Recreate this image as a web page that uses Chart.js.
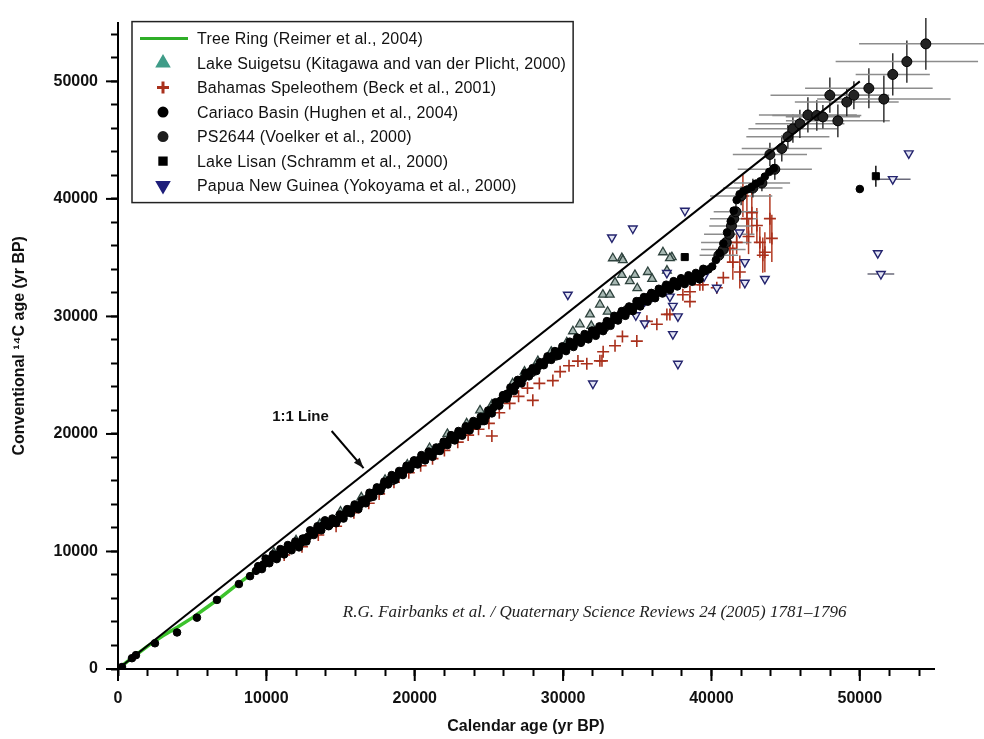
<!DOCTYPE html>
<html>
<head>
<meta charset="utf-8">
<script src="https://cdn.jsdelivr.net/npm/chart.js@4/dist/chart.umd.min.js"></script>
<style>
  html, body { margin: 0; padding: 0; background: #fff; }
  #wrap { width: 984px; height: 739px; }
</style>
</head>
<body>
<div id="wrap"><canvas id="chart" width="984" height="739"></canvas></div>
<script>
// [calendar age, 14C age, calErr, c14Err] (yr BP)
const tickValues = [0,2000,4000,6000,8000,10000,12000,14000,16000,18000,20000,22000,24000,26000,
  28000,30000,32000,34000,36000,38000,40000,42000,44000,46000,48000,50000,52000,54000];
const tickLabels = [0, 10000, 20000, 30000, 40000, 50000];

const oneToOne = [[0, 0], [50000, 50000]];

const treeRing = [[0,0],[1000,1000],[2000,1950],[3000,2800],[4000,3550],[5000,4350],[6000,5250],
  [7000,6150],[8000,7150],[9000,8100],[10000,9000],[11000,9800],[12000,10500],[12400,10650]];

const suigetsu = [[10500,9900],[12000,10950],[13600,12350],[15000,13400],[16400,14600],[18000,16100],
  [19500,17400],[21000,18800],[22200,20000],[23500,20900],[24400,22000],[25200,22500],[26600,24300],
  [27400,25300],[28300,26200],[29200,27000],[30250,27800],[30660,28740],[31130,29330],[31810,30170],
  [32480,31010],[32680,31850],[33150,31850],[33350,34950],[33500,32900],[33960,34960],[33960,33530],
  [34030,34790],[34840,33530],[34500,33000],[35710,33780],[36000,33200],[36730,35460],[37330,35040],
  [37200,34960],[37000,33900],[35000,32400],[33000,30400],[31900,29200]];

const bahamas = [[11200,9700],[12400,10400],[13500,11400],[14700,12150],[15900,13300],[16900,14100],
  [17600,14900],[18600,15900],[19600,16700],[20400,17300],[21200,17900],[22000,18600],[22900,19300],
  [23600,19900],[24300,20400],[25000,20900],[25200,19830],[25700,21800],[26400,22600],[27000,23200],
  [27600,23900],[27960,22860],[28400,24300],[29310,24540],[29800,25300],[30400,25800],[31000,26200],
  [31600,25970],[32480,26220],[32620,26220],[32700,27000],[33500,27500],[34000,28300],[34970,27900],
  [35650,29580],[36320,29330],[36995,30170],[37200,30170],[38073,31850],[38550,32100],[38550,31260],
  [39218,32690],[39420,32690],[40360,32440],[40800,33300],
  [41240,35800,0,1200],[41440,34620,0,1500],[41700,36300,0,1000],[41910,33780,0,1400],[42120,40250,0,1800],
  [42390,38320,0,2200],[42500,36800,0,1500],[42720,38820,0,1800],[43060,37730,0,1500],[43260,36300,0,1300],
  [43460,35210,0,1500],[43600,35460,0,1700],[43940,38320,0,2100],[44070,36640,0,2000]];

const cariaco = [[270,170],[940,920],[1210,1180],[2490,2190],[3980,3110],[5320,4370],[6670,5880],
  [8150,7230],[8900,7900],
  [9300,8350],[9570,8570],[9800,8900],[10050,9150],[10300,9350],[10550,9500],[10800,9750],[11050,9950],
  [11300,10150],[11550,10300],[11800,10500],[12050,10600],[12300,10700],[12550,10850],[12800,11250],
  [13050,11600],[13300,11750],[13550,11950],[13800,12200],[14050,12350],[14300,12450],[14550,12550],
  [14800,12700],[15050,12900],[15300,13200],[15550,13400],[15800,13600],[16050,13750],[16300,13950],
  [16550,14250],[16800,14500],[17050,14800],[17300,15050],[17550,15250],[17800,15500],[18050,15800],
  [18300,16100],[18550,16250],[18800,16450],[19050,16650],[19300,16900],[19550,17100],[19800,17350],
  [20050,17550],[20300,17800],[20550,17950],[20800,18100],[21050,18250],[21300,18450],[21550,18650],
  [21800,18950],[22050,19150],[22300,19450],[22550,19650],[22800,19850],[23050,20050],[23300,20250],
  [23550,20450],[23800,20700],[24050,20900],[24300,21050],[24550,21300],[24800,21500],[25050,21900],
  [25300,22250],[25550,22550],[25800,22850],[26050,23150],[26300,23450],[26550,23800],[26800,24100],
  [27050,24400],[27300,24700],[27550,25000],[27800,25300],[28050,25500],[28300,25700],[28550,25950],
  [28800,26200],[29050,26450],[29300,26650],[29550,26850],[29800,27050],[30050,27250],[30300,27450],
  [30550,27600],[30800,27800],[31050,27950],[31300,28100],[31550,28250],[31800,28400],[32050,28550],
  [32300,28750],[32550,28950],[32800,29150],[33050,29400],[33300,29600],[33550,29850],[33800,30050],
  [34050,30250],[34300,30450],[34550,30650],[34800,30850],[35050,31050],[35300,31250],[35550,31450],
  [35800,31600],[36050,31800],[36300,31950],[36550,32100],[36800,32300],[37050,32450],[37300,32600],
  [37550,32750],[37800,32900],[38050,33000],[38300,33150],[38550,33250],[38800,33350],[39050,33450],
  [39300,33650],[39550,33850],[39800,34000],[40050,34250],[40300,34800],[40550,35400],[40800,36200],
  [41050,37150],[41300,38100],[41500,39000],[41700,39900],[41900,40400],[42150,40650],[42400,40800],
  [42700,41000],[43000,41300],[43300,41500],[43600,41900],[43900,42300],[44200,42600],
  [50000,40840],
  // upper edge of the band
  [9450,8750],[9950,9400],[10450,9750],[10950,10200],[11450,10550],[11950,10850],[12450,11100],
  [12950,11800],[13450,12150],[13950,12650],[14450,12800],[14950,13150],[15450,13600],[15950,14000],
  [16450,14350],[16950,15000],[17450,15450],[17950,15950],[18450,16500],[18950,16850],[19450,17300],
  [19950,17750],[20450,18200],[20950,18500],[21450,18850],[21950,19350],[22450,19900],[22950,20250],
  [23450,20650],[23950,21100],[24450,21450],[24950,22000],[25450,22700],[25950,23300],[26450,23950],
  [26950,24600],[27450,25200],[27950,25600],[28450,26100],[28950,26600],[29450,27050],[29950,27450],
  [30450,27850],[30950,28200],[31450,28500],[31950,28800],[32450,29150],[32950,29600],[33450,30050],
  [33950,30450],[34450,30850],[34950,31300],[35450,31650],[35950,32000],[36450,32350],[36950,32700],
  [37450,33000],[37950,33250],[38450,33500],[38950,33700],[39450,34050],
  // lower edge of the band
  [9700,8500],[10200,9000],[10700,9350],[11200,9750],[11700,10100],[12200,10350],[12700,10850],
  [13200,11400],[13700,11800],[14200,12150],[14700,12400],[15200,12800],[15700,13250],[16200,13600],
  [16700,14100],[17200,14650],[17700,15150],[18200,15700],[18700,16100],[19200,16500],[19700,17000],
  [20200,17400],[20700,17750],[21200,18050],[21700,18550],[22200,19050],[22700,19450],[23200,19850],
  [23700,20300],[24200,20700],[24700,21100],[25200,21750],[25700,22400],[26200,23000],[26700,23650],
  [27200,24300],[27700,24900],[28200,25350],[28700,25850],[29200,26300],[29700,26650],[30200,27050],
  [30700,27400],[31200,27750],[31700,28050],[32200,28350],[32700,28750],[33200,29200],[33700,29650],
  [34200,30050],[34700,30450],[35200,30850],[35700,31250],[36200,31550],[36700,31950],[37200,32250],
  [37700,32550],[38200,32750],[38700,32950],[39200,33150]];

const ps2644 = [[12600,11000],[14200,12300],[15600,13450],[17000,14700],[18500,16100],[20000,17600],
  [21600,18700],[23000,20000],[24600,21200],[26200,23300],[27900,25300],[29500,26700],[31200,28000],
  [32800,29100],[34300,30500],[35900,31700],[37500,32800],[39000,33400],
  [40500,35200,1300,500],[40800,35700,1500,500],[41000,36300,1700,600],[41200,37000,1700,600],
  [41350,37700,1500,600],[41500,38300,1600,700],[41650,38900,1500,700],[42000,40250,2100,800],
  [42790,40920,2000,800],[43400,41350,1900,700],[44270,42520,2500,900],[43940,43780,2500,1000],
  [44740,44290,2700,1100],[45150,45290,2800,1000],[45490,45970,3000,1200],[45960,46390,3000,1200],
  [46500,47140,3300,1500],[47100,47100,3000,1300],[47510,46980,2500,1000],[48520,46640,3500,1400],
  [47980,48820,4000,1500],[49120,48240,3500,1200],[49600,48820,2000,1200],[50610,49410,4300,1700],
  [51620,48490,4500,2000],[52220,50590,2500,1800],[53170,51680,4800,1800],[54450,53190,4500,2200]];

const lisan = [[30700,27700],[32300,28800],[33900,30100],[35300,31300],[36900,32400],[38200,35050],
  [51080,41930,0,900]];

const png = [[30320,31850],[32010,24290],[33290,36720],[34700,37480],[34900,30100],[35500,31300],
  [35500,29400],[36000,31700],[36995,33700],[37200,31680],[37400,30900],[37740,30000],[37400,28490],
  [37740,25970],[38210,38990],[39500,33400],[40360,32440],[41900,37140],[42250,34620],[42250,32860],
  [43600,33190],
  [51210,35380],[51420,33610,900,0],[52220,41680,1200,0],[53300,43870]];

const xTitle = 'Calendar age (yr BP)';
const yTitle = 'Conventional \u00B9\u2074C age (yr BP)';
const citation = 'R.G. Fairbanks et al. / Quaternary Science Reviews 24 (2005) 1781\u20131796';

const toPts = a => a.map(([x, y, xErr, yErr]) => ({ x, y, xErr: xErr || 0, yErr: yErr || 0 }));
const SANS = "'Liberation Sans', Arial, sans-serif";

const errorBars = {
  id: 'errorBars',
  beforeDatasetsDraw(chart) {
    const { ctx, scales: { x, y } } = chart;
    ctx.save();
    ctx.lineWidth = 1.5;
    chart.data.datasets.forEach(ds => {
      if (!ds.errX && !ds.errY) return;
      ds.data.forEach(p => {
        const px = x.getPixelForValue(p.x), py = y.getPixelForValue(p.y);
        if (p.xErr) {
          ctx.strokeStyle = ds.errX;
          ctx.beginPath();
          ctx.moveTo(x.getPixelForValue(p.x - p.xErr), py);
          ctx.lineTo(x.getPixelForValue(p.x + p.xErr), py);
          ctx.stroke();
        }
        if (p.yErr) {
          ctx.strokeStyle = ds.errY;
          ctx.beginPath();
          ctx.moveTo(px, y.getPixelForValue(p.y - p.yErr));
          ctx.lineTo(px, y.getPixelForValue(p.y + p.yErr));
          ctx.stroke();
        }
      });
    });
    ctx.restore();
  }
};

// longer tick marks at the labelled values, the text notes and the boxed legend
const extras = {
  id: 'extras',
  afterDraw(chart) {
    const { ctx, scales: { x, y }, chartArea } = chart;
    ctx.save();
    ctx.strokeStyle = '#000';
    ctx.lineWidth = 2;
    tickLabels.forEach(v => {
      const px = x.getPixelForValue(v), py = y.getPixelForValue(v);
      ctx.beginPath(); ctx.moveTo(px, chartArea.bottom); ctx.lineTo(px, chartArea.bottom + 12); ctx.stroke();
      ctx.beginPath(); ctx.moveTo(chartArea.left, py); ctx.lineTo(chartArea.left - 12, py); ctx.stroke();
    });

    // 1:1 line label and arrow
    ctx.fillStyle = '#111';
    ctx.font = 'bold 15px ' + SANS;
    ctx.textAlign = 'center';
    ctx.textBaseline = 'middle';
    ctx.fillText('1:1 Line', x.getPixelForValue(12300), y.getPixelForValue(21450));
    const ax0 = x.getPixelForValue(14400), ay0 = y.getPixelForValue(20250);
    const ax1 = x.getPixelForValue(16550), ay1 = y.getPixelForValue(17100);
    ctx.lineWidth = 2;
    ctx.beginPath(); ctx.moveTo(ax0, ay0); ctx.lineTo(ax1, ay1); ctx.stroke();
    const ang = Math.atan2(ay1 - ay0, ax1 - ax0);
    ctx.beginPath();
    ctx.moveTo(ax1, ay1);
    ctx.lineTo(ax1 - 11 * Math.cos(ang - 0.35), ay1 - 11 * Math.sin(ang - 0.35));
    ctx.lineTo(ax1 - 11 * Math.cos(ang + 0.35), ay1 - 11 * Math.sin(ang + 0.35));
    ctx.closePath(); ctx.fill();

    // journal citation
    ctx.font = 'italic 17px "Liberation Serif", "Times New Roman", serif';
    ctx.textAlign = 'left';
    ctx.fillStyle = '#222';
    ctx.fillText(citation, x.getPixelForValue(15150), y.getPixelForValue(4800));

    // legend box
    const items = chart.data.datasets.filter(ds => ds.legend);
    ctx.font = '16px ' + SANS;
    ctx.letterSpacing = '0.2px';
    const textW = Math.max(...items.map(ds => ctx.measureText(ds.label).width));
    const bx = chartArea.left + 14, by = chartArea.top - 1;
    const bw = 65 + textW + 7, bh = 181;
    ctx.lineWidth = 1.5;
    ctx.strokeStyle = '#222';
    ctx.strokeRect(bx, by, bw, bh);
    items.forEach((ds, i) => {
      const ry = by + 17 + i * 24.5;
      const lg = ds.legend;
      if (lg.style === 'line') {
        ctx.strokeStyle = lg.color; ctx.lineWidth = 3;
        ctx.beginPath(); ctx.moveTo(bx + 8, ry); ctx.lineTo(bx + 56, ry); ctx.stroke();
      } else {
        ctx.fillStyle = lg.color; ctx.strokeStyle = lg.color;
        Chart.helpers.drawPoint(ctx, { pointStyle: lg.style, radius: lg.r, rotation: lg.rot || 0, borderWidth: lg.bw || 1 }, bx + 31, ry);
      }
      ctx.fillStyle = '#111';
      ctx.textAlign = 'left';
      ctx.fillText(ds.label, bx + 65, ry + 1);
    });
    ctx.restore();
  }
};

const tickOpts = {
  color: '#111',
  font: { family: SANS, size: 16, weight: 'bold' },
  autoSkip: false,
  maxRotation: 0,
  padding: 13,
  callback: v => (tickLabels.includes(v) ? String(v) : '')
};
const gridOpts = {
  drawOnChartArea: false,
  drawTicks: true,
  tickLength: 7,
  tickWidth: 2,
  tickColor: '#000'
};
const setTicks = s => { s.ticks = tickValues.map(v => ({ value: v })); };

new Chart(document.getElementById('chart'), {
  type: 'scatter',
  data: {
    datasets: [
      { label: '1:1', type: 'line', data: toPts(oneToOne), borderColor: '#000', borderWidth: 2,
        pointRadius: 0, order: 0 },
      { label: 'Tree Ring (Reimer et al., 2004)', type: 'line', data: toPts(treeRing), borderColor: '#3cc22c',
        borderWidth: 3.5, pointRadius: 0, order: 6, legend: { style: 'line', color: '#2fae28' } },
      { label: 'Lake Suigetsu (Kitagawa and van der Plicht, 2000)', data: toPts(suigetsu), pointStyle: 'triangle',
        pointRadius: 5, backgroundColor: '#a7b8b3', borderColor: '#2f433e', borderWidth: 1.3, order: 4,
        legend: { style: 'triangle', color: '#3f9c88', r: 6 } },
      { label: 'Bahamas Speleothem (Beck et al., 2001)', data: toPts(bahamas), pointStyle: 'cross',
        pointRadius: 6, borderColor: '#a9301c', borderWidth: 1.6, order: 5, errY: '#b33a22',
        legend: { style: 'cross', color: '#a9301c', r: 6, bw: 2 } },
      { label: 'Cariaco Basin (Hughen et al., 2004)', data: toPts(cariaco), pointStyle: 'circle',
        pointRadius: 3.8, backgroundColor: '#000', borderColor: '#000', borderWidth: 1, order: 1,
        legend: { style: 'circle', color: '#000', r: 4 } },
      { label: 'PS2644 (Voelker et al., 2000)', data: toPts(ps2644), pointStyle: 'circle',
        pointRadius: 5, backgroundColor: '#222', borderColor: '#000', borderWidth: 1, order: 2,
        errX: '#8c8c8c', errY: '#333', legend: { style: 'circle', color: '#1c1c1c', r: 4 } },
      { label: 'Lake Lisan (Schramm et al., 2000)', data: toPts(lisan), pointStyle: 'rect',
        pointRadius: 5, backgroundColor: '#000', borderColor: '#000', borderWidth: 1, order: 1,
        errY: '#111', legend: { style: 'rect', color: '#000', r: 4.5 } },
      { label: 'Papua New Guinea (Yokoyama et al., 2000)', data: toPts(png), pointStyle: 'triangle',
        rotation: 180, pointRadius: 5, backgroundColor: '#e4e6f4', borderColor: '#24246e', borderWidth: 1.4,
        order: 3, errX: '#6a6a7a', legend: { style: 'triangle', color: '#1e1e7a', r: 6, rot: 180 } }
    ]
  },
  options: {
    responsive: false,
    animation: false,
    events: [],
    layout: { padding: { left: 0, right: 50, top: 6, bottom: 0 } },
    plugins: { legend: { display: false }, tooltip: { enabled: false } },
    scales: {
      x: {
        type: 'linear', min: 0, max: 55000,
        afterBuildTicks: setTicks,
        ticks: tickOpts, grid: gridOpts,
        border: { display: true, color: '#000', width: 2 },
        title: { display: true, text: xTitle, color: '#111',
          font: { family: SANS, size: 16, weight: 'bold' }, padding: { top: 4, bottom: 3 } },
        afterFit: s => { s.height = 70; }
      },
      y: {
        type: 'linear', min: 0, max: 55000,
        afterBuildTicks: setTicks,
        ticks: tickOpts, grid: gridOpts,
        border: { display: true, color: '#000', width: 2 },
        title: { display: true, text: yTitle, color: '#111',
          font: { family: SANS, size: 16, weight: 'bold' }, padding: { top: 10, bottom: 0 } },
        afterFit: s => { s.width = 118; }
      }
    }
  },
  plugins: [errorBars, extras]
});
</script>
</body>
</html>
